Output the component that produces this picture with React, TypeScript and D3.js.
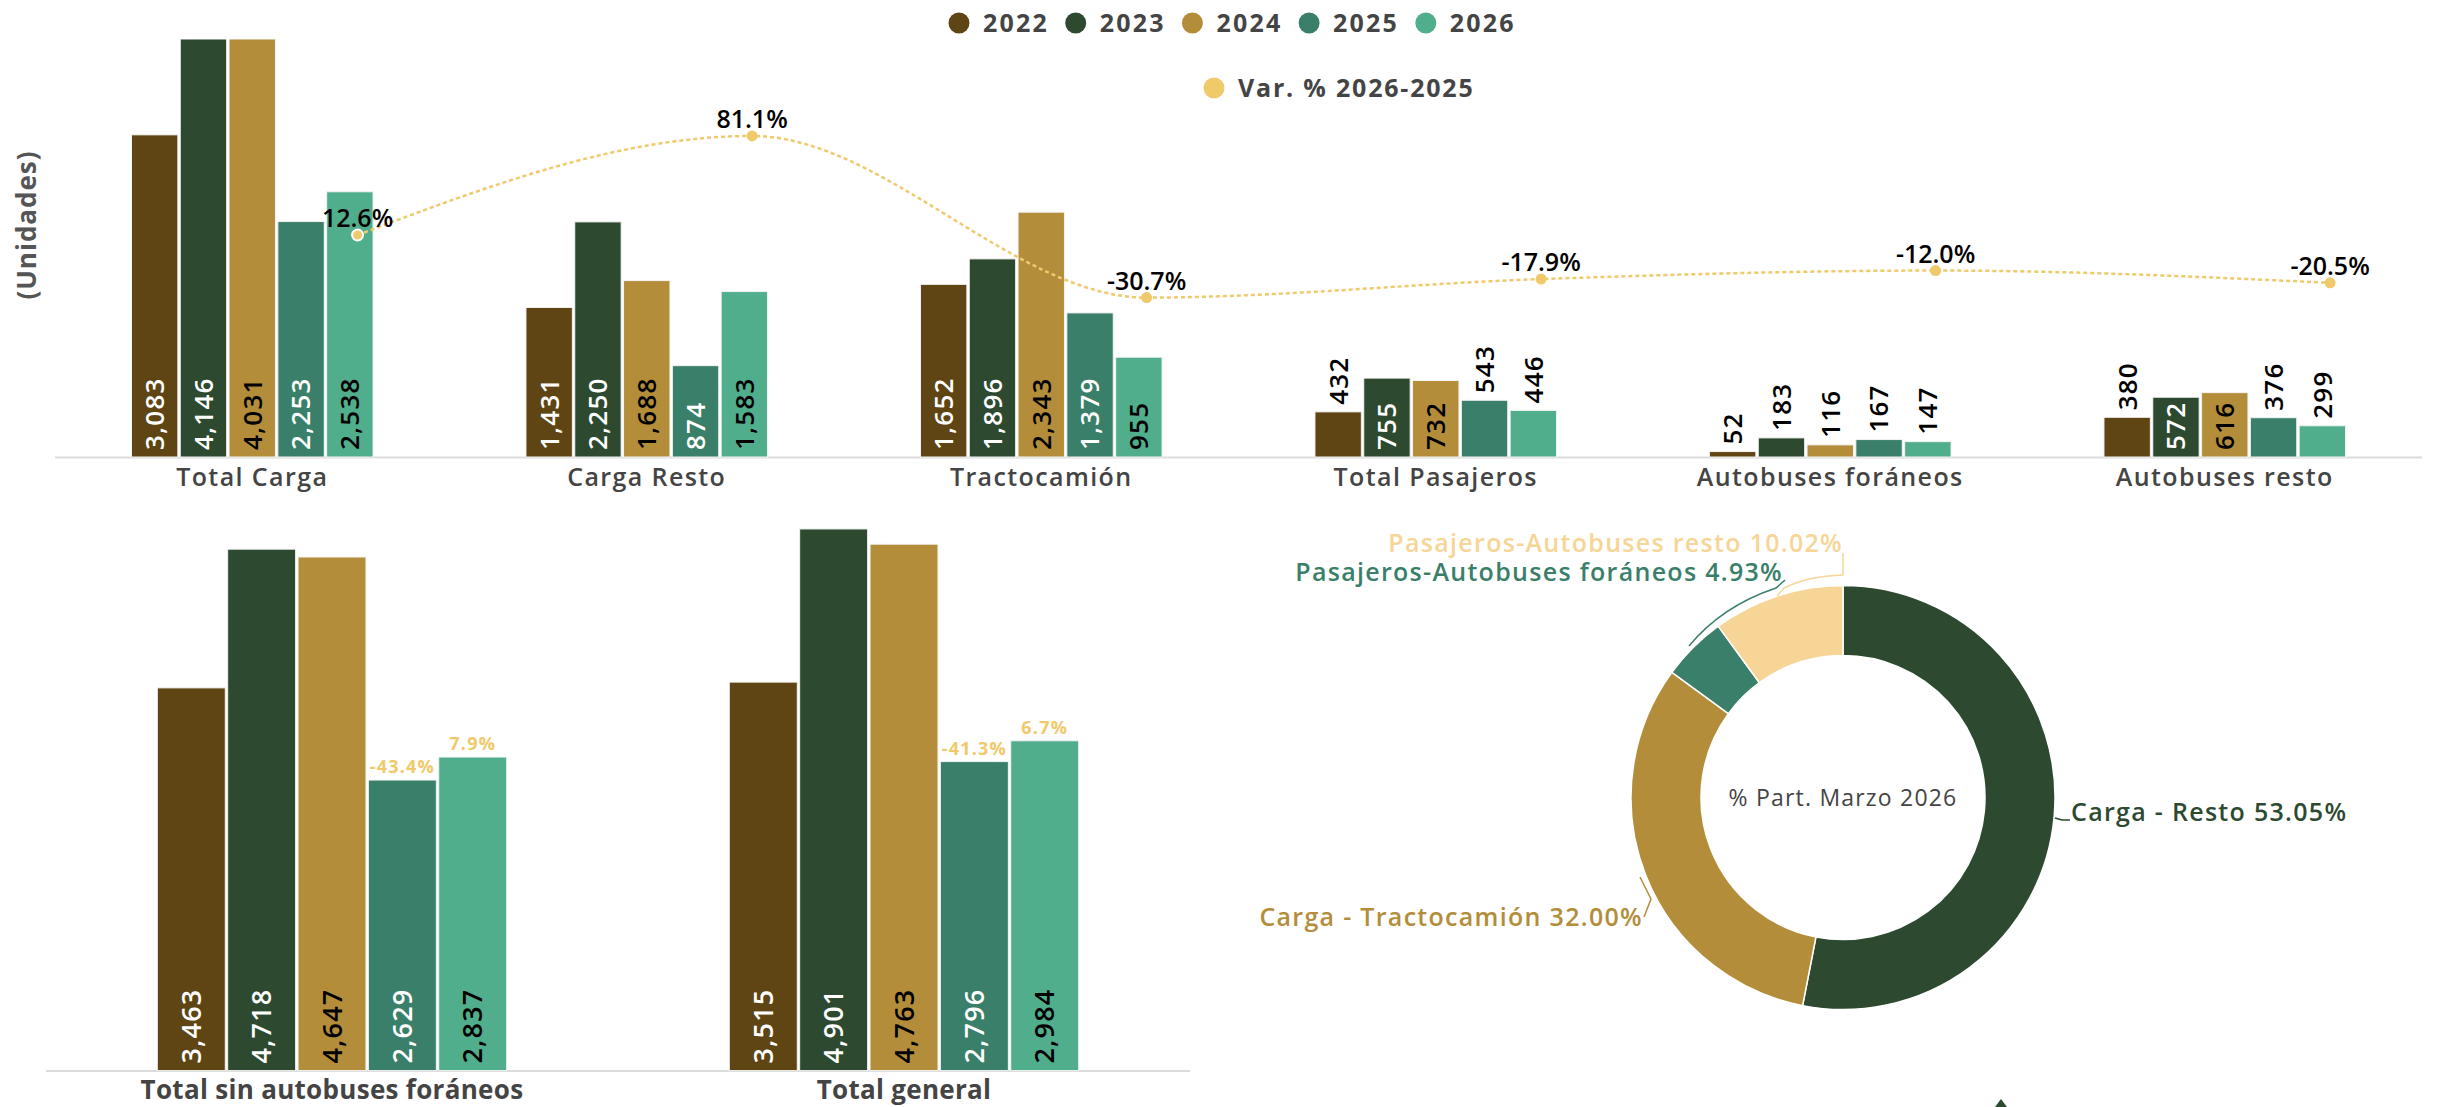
import React from 'react';
import * as d3 from 'd3';

const years = ['2022', '2023', '2024', '2025', '2026'];
const yearColors = ['#5E4513', '#2D4A30', '#B38D3A', '#3A7F69', '#51AE8C'];
const yearLabelColors = ['#FFFFFF', '#FFFFFF', '#000000', '#FFFFFF', '#000000'];
const varColor = '#F0C96A';
const varLegend = 'Var. % 2026-2025';

const topCategories = ['Total Carga', 'Carga Resto', 'Tractocamión', 'Total Pasajeros', 'Autobuses foráneos', 'Autobuses resto'];
const v2022 = [3083, 1431, 1652, 432, 52, 380];
const v2023 = [4146, 2250, 1896, 755, 183, 572];
const v2024 = [4031, 1688, 2343, 732, 116, 616];
const v2025 = [2253, 874, 1379, 543, 167, 376];
const v2026 = [2538, 1583, 955, 446, 147, 299];
const varPct = [12.6, 81.1, -30.7, -17.9, -12.0, -20.5];

const bottomCategories = ['Total sin autobuses foráneos', 'Total general'];
const b2022 = [3463, 3515];
const b2023 = [4718, 4901];
const b2024 = [4647, 4763];
const b2025 = [2629, 2796];
const b2026 = [2837, 2984];
const bVar2025 = [-43.4, -41.3];
const bVar2026 = [7.9, 6.7];

const donutLabels = ['Carga - Resto', 'Carga - Tractocamión', 'Pasajeros-Autobuses foráneos', 'Pasajeros-Autobuses resto'];
const donutValues = [1583, 955, 147, 299];
const donutColors = ['#2D4A30', '#B38D3A', '#3A7F69', '#F7D596'];
const donutTitle = '% Part. Marzo 2026';

const FONT = "'Open Sans', sans-serif";
const fmt = d3.format(',');

const topSeries = [v2022, v2023, v2024, v2025, v2026];
const bottomSeries = [b2022, b2023, b2024, b2025, b2026];

function BarGroups({ categories, series, x, y, groupFrac, minInside, labelSize }: any) {
  const bw = x.bandwidth();
  const gw = bw * groupFrac;
  const inner = d3.scaleBand().domain(years).range([0, gw]).paddingInner(0);
  const base = y(0);
  const top = y.range()[1];
  return (
    <g>
      {categories.map((c: string, ci: number) => {
        const gx = x(c) + (bw - gw) / 2;
        return (
          <g key={c}>
            {years.map((yr, yi) => {
              const v = series[yi][ci];
              const bx = gx + inner(yr) + 1.2;
              const w = inner.bandwidth() - 2.4;
              const ty = Math.max(y(v), top);
              const h = base - ty;
              const cx = bx + w / 2;
              const inside = h >= minInside;
              const ly = inside ? base - 7 : ty - 7;
              return (
                <g key={yr}>
                  <rect x={bx} y={ty} width={w} height={h} fill={yearColors[yi]} stroke="#f3f3f3" strokeWidth={1} />
                  <text transform={`translate(${cx + labelSize * 0.36},${ly}) rotate(-90)`} fontSize={labelSize} fontWeight={600} letterSpacing={1.2} fill={inside ? yearLabelColors[yi] : '#000'} fontFamily={FONT}>{fmt(v)}</text>
                </g>
              );
            })}
          </g>
        );
      })}
    </g>
  );
}

export default function App() {
  const W = 2441, H = 1107;

  // top chart
  const xTop = d3.scaleBand().domain(topCategories).range([55, 2422]).padding(0);
  const yTop = d3.scaleLinear().domain([0, 4000]).range([457, 39]);
  const y2 = d3.scaleLinear().domain([-141, 148.2]).range([457, 39]);
  const bwTop = xTop.bandwidth();
  const linePts: [number, number][] = topCategories.map((c, i) => [xTop(c)! + bwTop / 2 + 0.267 * bwTop, y2(varPct[i])]);
  const lineGen = d3.line().curve(d3.curveMonotoneX);

  // bottom chart
  const xBot = d3.scaleBand().domain(bottomCategories).range([46, 1190]).padding(0);
  const yBot = d3.scaleLinear().domain([0, 5000]).range([1070.6, 518]);
  const bwBot = xBot.bandwidth();
  const gwBot = bwBot * 0.615;
  const innerBot = d3.scaleBand().domain(years).range([0, gwBot]);

  // donut
  const cx = 1843, cy = 797.5, rOuter = 212, rInner = 142;
  const total = d3.sum(donutValues);
  const pie = d3.pie<number>().sort(null).value((d) => d)(donutValues);
  const arcGen = d3.arc<any>().innerRadius(rInner).outerRadius(rOuter);
  const pct = donutValues.map((v) => ((v / total) * 100).toFixed(2) + '%');

  return (
    <svg width={W} height={H} style={{ position: 'absolute', left: 0, top: 0, display: 'block', background: '#fff' }} fontFamily={FONT}>
      <defs>
        <clipPath id="topClip"><rect x={0} y={39} width={W} height={420} /></clipPath>
      </defs>

      {/* Legend */}
      <g>
        {years.map((yr, i) => (
          <g key={yr} transform={`translate(${959 + i * 116.7},23)`}>
            <circle r={10.5} fill={yearColors[i]} />
            <text x={24} y={8.5} fontSize={25} fontWeight={700} letterSpacing={2.2} fill="#444">{yr}</text>
          </g>
        ))}
        <g transform="translate(1214,88)">
          <circle r={10.5} fill={varColor} />
          <text x={24} y={8.5} fontSize={25} fontWeight={700} letterSpacing={1.8} fill="#444">{varLegend}</text>
        </g>
      </g>

      {/* Y axis title */}
      <text transform="translate(36,225) rotate(-90)" textAnchor="middle" fontSize={26} fontWeight={700} letterSpacing={1} fill="#555">(Unidades)</text>

      {/* Top axis */}
      <line x1={55} x2={2422} y1={457.5} y2={457.5} stroke="#dcdcdc" strokeWidth={2} />
      <g clipPath="url(#topClip)">
        <BarGroups categories={topCategories} series={topSeries} x={xTop} y={yTop} groupFrac={0.6185} minInside={58} labelSize={26} />
      </g>
      {topCategories.map((c) => (
        <text key={c} x={xTop(c)! + bwTop / 2} y={486} textAnchor="middle" fontSize={25} fontWeight={600} letterSpacing={1.4} fill="#444">{c}</text>
      ))}

      {/* Var line */}
      <path d={lineGen(linePts) || ''} fill="none" stroke={varColor} strokeWidth={2.5} strokeDasharray="4 3" />
      {linePts.map((p, i) => (
        <g key={i}>
          <circle cx={p[0]} cy={p[1]} r={5.5} fill={varColor} stroke="#fff" strokeWidth={i === 0 ? 2 : 0} />
          <text x={p[0]} y={p[1] - 8} textAnchor="middle" fontSize={25} fontWeight={600} fill="#000">{varPct[i].toFixed(1)}%</text>
        </g>
      ))}

      {/* Bottom chart */}
      <line x1={46} x2={1190} y1={1071} y2={1071} stroke="#dcdcdc" strokeWidth={2} />
      <BarGroups categories={bottomCategories} series={bottomSeries} x={xBot} y={yBot} groupFrac={0.615} minInside={58} labelSize={27} />
      {bottomCategories.map((c, ci) => {
        const gx = xBot(c)! + (bwBot - gwBot) / 2;
        const x25 = gx + innerBot('2025')! + innerBot.bandwidth() / 2;
        const x26 = gx + innerBot('2026')! + innerBot.bandwidth() / 2;
        return (
          <g key={c}>
            <text x={xBot(c)! + bwBot / 2} y={1099} textAnchor="middle" fontSize={26} fontWeight={700} letterSpacing={0.3} fill="#444">{c}</text>
            <text x={x25} y={yBot(b2025[ci]) - 7} textAnchor="middle" fontSize={18} fontWeight={700} letterSpacing={1.2} fill={varColor}>{bVar2025[ci].toFixed(1)}%</text>
            <text x={x26} y={yBot(b2026[ci]) - 7} textAnchor="middle" fontSize={18} fontWeight={700} letterSpacing={1.2} fill={varColor}>{bVar2026[ci].toFixed(1)}%</text>
          </g>
        );
      })}

      {/* Donut */}
      <g transform={`translate(${cx},${cy})`}>
        {pie.map((s, i) => (
          <path key={i} d={arcGen(s) || ''} fill={donutColors[i]} stroke="#fff" strokeWidth={1.5} />
        ))}
        <text x={0} y={8} textAnchor="middle" fontSize={23} fontWeight={500} letterSpacing={1.2} fill="#444">{donutTitle}</text>
      </g>
      {/* leader lines */}
      <path d="M2055,818 L2062,820 L2070,820" fill="none" stroke={donutColors[0]} strokeWidth={1.5} />
      <path d="M1640,877 L1651,899 L1644,917" fill="none" stroke={donutColors[1]} strokeWidth={1.5} />
      <path d="M1689,646 Q1722,606 1776,588 L1785,580" fill="none" stroke={donutColors[2]} strokeWidth={1.5} />
      <path d="M1777,596 L1784,588 Q1808,576 1843,575 L1843,553" fill="none" stroke={donutColors[3]} strokeWidth={1.5} />
      <text x={2071} y={821} fontSize={25} fontWeight={600} letterSpacing={1.3} fill={donutColors[0]}>{donutLabels[0]} {pct[0]}</text>
      <text x={1643} y={926} textAnchor="end" fontSize={25} fontWeight={600} letterSpacing={1.3} fill={donutColors[1]}>{donutLabels[1]} {pct[1]}</text>
      <text x={1783} y={581} textAnchor="end" fontSize={25} fontWeight={600} letterSpacing={1.3} fill={donutColors[2]}>{donutLabels[2]} {pct[2]}</text>
      <text x={1843} y={552} textAnchor="end" fontSize={25} fontWeight={600} letterSpacing={1.3} fill={donutColors[3]}>{donutLabels[3]} {pct[3]}</text>

      <polygon points="2001,1099 1995,1107 2007,1107" fill="#2D4A30" />
    </svg>
  );
}
